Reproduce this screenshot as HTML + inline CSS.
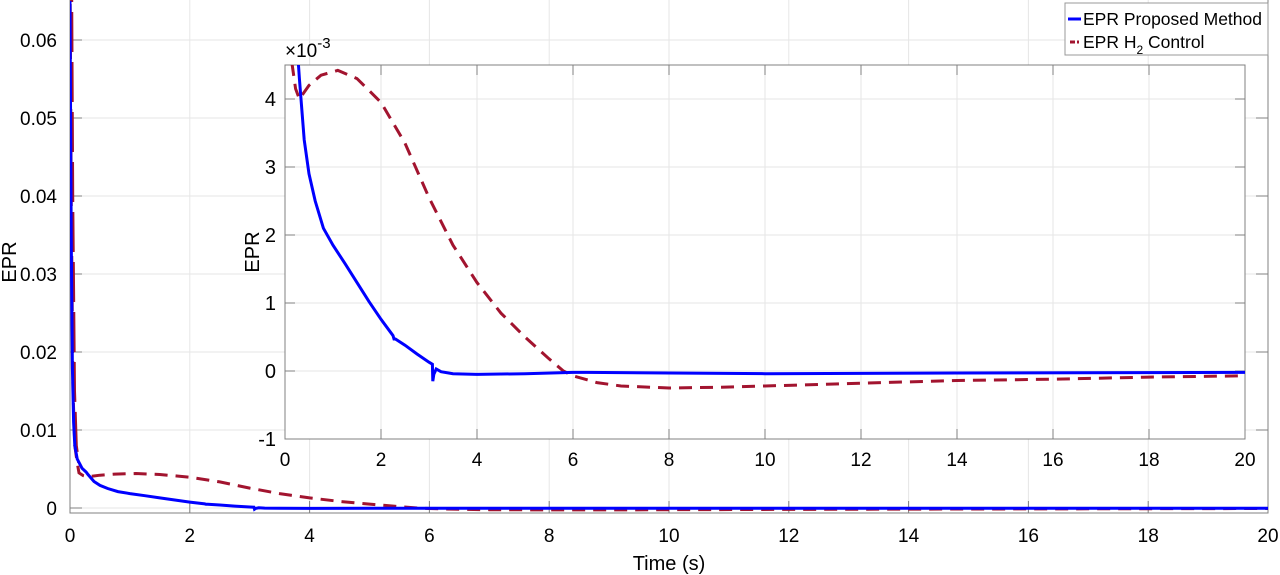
<!DOCTYPE html>
<html><head><meta charset="utf-8"><style>
html,body{margin:0;padding:0;background:#fff}
svg{display:block;font-family:"Liberation Sans",Arial,sans-serif}
</style></head><body>
<svg id="s" width="1280" height="575" viewBox="0 0 1280 575" xmlns="http://www.w3.org/2000/svg">
<defs>
<clipPath id="cm"><rect x="70" y="0" width="1198" height="513"/></clipPath>
<clipPath id="ci"><rect x="285" y="65" width="960" height="374"/></clipPath>
</defs>
<g id="main"></g>
<g id="inset"></g>
<g id="legend">
<rect x="1065" y="3" width="203" height="52" fill="#fff" stroke="#999" stroke-width="1"/>
<line x1="1068" y1="19" x2="1081" y2="19" stroke="#0000ff" stroke-width="3"/>
<line x1="1070" y1="42" x2="1079" y2="42" stroke="#a2142f" stroke-width="3" stroke-dasharray="5,2"/>
<text x="1083" y="25" font-size="17.5">EPR Proposed Method</text>
<text x="1083" y="48" font-size="17.5">EPR H<tspan font-size="12" dy="6">2</tspan><tspan dy="-6"> Control</tspan></text>
</g>
</svg>
<script>
const NS="http://www.w3.org/2000/svg";
function el(p,tag,a,txt){const e=document.createElementNS(NS,tag);for(const k in a)e.setAttribute(k,a[k]);if(txt!==undefined)e.textContent=txt;p.appendChild(e);return e;}
const blue=[[0,65],[0.02,35],[0.04,18],[0.06,11],[0.08,8],[0.12,6.3],[0.2,5.1],[0.27,4.6],[0.3,4.3],[0.4,3.4],[0.5,2.9],[0.63,2.5],[0.8,2.1],[1,1.85],[1.25,1.58],[1.5,1.3],[1.75,1.02],[2,0.76],[2.25,0.52],[2.27,0.47],[2.3,0.47],[2.5,0.38],[2.75,0.25],[3,0.13],[3.07,0.1],[3.08,-0.15],[3.1,-0.05],[3.15,0.03],[3.25,-0.01],[3.5,-0.04],[4,-0.05],[5,-0.04],[6,-0.02],[6.3,-0.02],[8,-0.03],[10,-0.04],[14,-0.03],[20,-0.02]];
const red=[[0,70],[0.02,40],[0.05,15],[0.08,8],[0.12,5.8],[0.15,4.5],[0.22,4.15],[0.3,4.0],[0.5,4.2],[0.75,4.35],[1.1,4.42],[1.5,4.3],[2,3.95],[2.5,3.35],[3,2.55],[3.5,1.85],[4,1.3],[4.5,0.85],[5,0.5],[5.5,0.18],[5.8,0],[6,-0.07],[6.5,-0.17],[7,-0.22],[8,-0.25],[9,-0.24],[10,-0.22],[12,-0.18],[14,-0.14],[16,-0.12],[18,-0.09],[20,-0.07]];
function path(pts,fx,fy){return pts.map((p,i)=>(i?"L":"M")+fx(p[0]).toFixed(1)+","+fy(p[1]).toFixed(1)).join("");}
const m=document.getElementById("main");
const mx=t=>70+t*59.9, my=v=>508-v*7.8;
for(let t=0;t<=20;t+=2){el(m,"line",{x1:mx(t),y1:0,x2:mx(t),y2:513,stroke:"#e6e6e6"});}
for(let v=0;v<=60;v+=10){el(m,"line",{x1:70,y1:my(v),x2:1268,y2:my(v),stroke:"#e6e6e6"});}
el(m,"path",{d:"M70,0L70,513L1268,513L1268,0",fill:"none",stroke:"#808080"});
for(let t=0;t<=20;t+=2){el(m,"line",{x1:mx(t),y1:513,x2:mx(t),y2:501,stroke:"#808080"});el(m,"text",{x:mx(t),y:542,"font-size":19,"text-anchor":"middle"},t);}
for(let v=0;v<=60;v+=10){el(m,"line",{x1:70,y1:my(v),x2:82,y2:my(v),stroke:"#808080"});el(m,"line",{x1:1268,y1:my(v),x2:1256,y2:my(v),stroke:"#808080"});el(m,"text",{x:57,y:my(v)+7,"font-size":19,"text-anchor":"end"},v==0?"0":(v/1000).toFixed(2));}
el(m,"text",{x:669,y:570,"font-size":20,"text-anchor":"middle"},"Time (s)");
el(m,"text",{x:16,y:262,"font-size":20,"text-anchor":"middle",transform:"rotate(-90 16 262)"},"EPR");
const gm=el(m,"g",{"clip-path":"url(#cm)"});
el(gm,"path",{d:path(red,mx,my),fill:"none",stroke:"#a2142f","stroke-width":3,"stroke-dasharray":"13,8"});
el(gm,"path",{d:path(red.slice(0,5),t=>mx(t)+1.5,my),fill:"none",stroke:"#a2142f","stroke-width":3,"stroke-dasharray":"40,10"});
el(gm,"path",{d:path(blue,mx,my),fill:"none",stroke:"#0000ff","stroke-width":3});
const g=document.getElementById("inset");
const ix=t=>285+t*48, iy=v=>371-v*68;
el(g,"rect",{x:285,y:65,width:960,height:374,fill:"#fff"});
for(let t=0;t<=20;t+=2){el(g,"line",{x1:ix(t),y1:65,x2:ix(t),y2:439,stroke:"#e6e6e6"});}
for(let v=-1;v<=4;v++){el(g,"line",{x1:285,y1:iy(v),x2:1245,y2:iy(v),stroke:"#e6e6e6"});}
el(g,"rect",{x:285,y:65,width:960,height:374,fill:"none",stroke:"#808080"});
for(let t=0;t<=20;t+=2){el(g,"line",{x1:ix(t),y1:439,x2:ix(t),y2:429,stroke:"#808080"});el(g,"line",{x1:ix(t),y1:65,x2:ix(t),y2:75,stroke:"#808080"});el(g,"text",{x:ix(t),y:466,"font-size":19,"text-anchor":"middle"},t);}
for(let v=-1;v<=4;v++){el(g,"line",{x1:285,y1:iy(v),x2:295,y2:iy(v),stroke:"#808080"});el(g,"line",{x1:1245,y1:iy(v),x2:1235,y2:iy(v),stroke:"#808080"});el(g,"text",{x:276,y:iy(v)+7,"font-size":20,"text-anchor":"end"},v);}
const tx=el(g,"text",{x:285,y:57,"font-size":19},"×10");el(tx,"tspan",{dy:-9,"font-size":15},"-3");
el(g,"text",{x:259,y:252,"font-size":20,"text-anchor":"middle",transform:"rotate(-90 259 252)"},"EPR");
const gi=el(g,"g",{"clip-path":"url(#ci)"});
el(gi,"path",{d:path(red,ix,iy),fill:"none",stroke:"#a2142f","stroke-width":3,"stroke-dasharray":"13,8"});
el(gi,"path",{d:path(blue,ix,iy),fill:"none",stroke:"#0000ff","stroke-width":3});
</script>
</body></html>
